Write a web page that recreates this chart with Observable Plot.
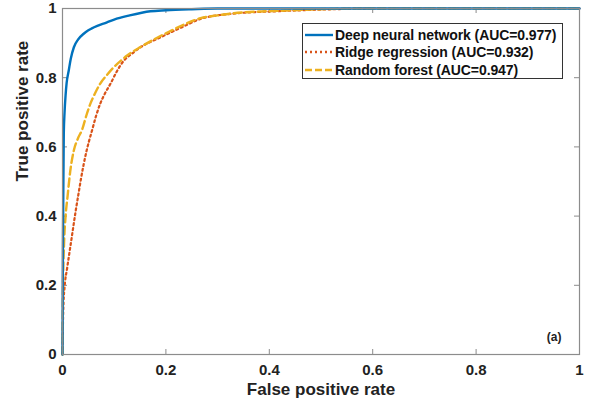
<!DOCTYPE html>
<html>
<head>
<meta charset="utf-8">
<script src="https://cdn.jsdelivr.net/npm/d3@7"></script>
<script src="https://cdn.jsdelivr.net/npm/@observablehq/plot@0.6"></script>
<style>
  html, body { margin: 0; padding: 0; background: #fff; }
  #wrap { position: relative; width: 590px; height: 407px; font-family: "Liberation Sans", Arial, sans-serif; }
  #legend { position: absolute; left: 302px; top: 23px; width: 261px; height: 56px; border: 1px solid #333; background: #fff; box-sizing: border-box; padding-top: 2px; }
  .item { display: flex; align-items: center; height: 17.5px; font-weight: bold; font-size: 14px; color: #111; letter-spacing: -0.1px; }
  .item svg { margin: 0 2px 0 2px; }
</style>
</head>
<body>
<div id="wrap"></div>
<script>
const xTicks = [0, 0.2, 0.4, 0.6, 0.8, 1];
const yTicks = [0, 0.2, 0.4, 0.6, 0.8, 1];
const tickLabels = ["0", "0.2", "0.4", "0.6", "0.8", "1"];

const seriesNames = ["Deep neural network (AUC=0.977)", "Ridge regression (AUC=0.932)", "Random forest (AUC=0.947)"];
const seriesColors = ["#0072BD", "#D95319", "#EDB120"];

const dnnFpr = [0, 0.0005, 0.001, 0.002, 0.0025, 0.004, 0.006, 0.008, 0.012, 0.016, 0.022, 0.03, 0.041, 0.05, 0.06, 0.086, 0.1, 0.13, 0.17, 0.2, 0.25, 0.3, 0.4, 1];
const dnnTpr = [0, 0.2, 0.35, 0.55, 0.64, 0.7, 0.75, 0.785, 0.82, 0.855, 0.888, 0.91, 0.927, 0.937, 0.945, 0.96, 0.968, 0.98, 0.992, 0.995, 0.998, 1, 1, 1];

const ridgeFpr = [0, 0.001, 0.002, 0.004, 0.009, 0.014, 0.019, 0.025, 0.031, 0.036, 0.041, 0.046, 0.051, 0.057, 0.065, 0.073, 0.083, 0.093, 0.105, 0.118, 0.133, 0.151, 0.19, 0.234, 0.267, 0.33, 0.43, 0.525, 0.6, 1];
const ridgeTpr = [0, 0.1, 0.15, 0.195, 0.25, 0.3, 0.35, 0.41, 0.465, 0.51, 0.55, 0.585, 0.615, 0.647, 0.69, 0.725, 0.757, 0.783, 0.818, 0.848, 0.868, 0.888, 0.917, 0.948, 0.97, 0.985, 0.993, 0.998, 1, 1];

const rfFpr = [0, 0.001, 0.003, 0.006, 0.01, 0.015, 0.022, 0.03, 0.038, 0.046, 0.054, 0.063, 0.073, 0.086, 0.099, 0.112, 0.125, 0.15, 0.176, 0.205, 0.234, 0.267, 0.3, 0.33, 0.43, 0.525, 0.6, 1];
const rfTpr = [0, 0.2, 0.32, 0.4, 0.46, 0.53, 0.59, 0.625, 0.65, 0.69, 0.725, 0.755, 0.783, 0.808, 0.83, 0.848, 0.864, 0.888, 0.91, 0.932, 0.953, 0.972, 0.98, 0.986, 0.994, 0.999, 1, 1];

const toPts = (xs, ys) => xs.map((x, i) => ({x, y: ys[i]}));
const dnn = toPts(dnnFpr, dnnTpr);
const ridge = toPts(ridgeFpr, ridgeTpr);
const rf = toPts(rfFpr, rfTpr);

const W = 590, H = 407;
const mL = 62, mR = 11, mT = 8, mB = 53;
const tx = 5 / (W - mL - mR), ty = 5 / (H - mT - mB);
const axisGray = "#8c8c8c";

const chart = Plot.plot({
  width: W, height: H,
  marginLeft: mL, marginRight: mR, marginTop: mT, marginBottom: mB,
  style: {fontFamily: "'Liberation Sans', Arial, sans-serif", background: "#fff", overflow: "visible"},
  x: {domain: [0, 1]},
  y: {domain: [0, 1]},
  marks: [
    Plot.axisX(xTicks, {tickSize: 0, tickPadding: 10, tickFormat: (d, i) => tickLabels[i], fontSize: 15, fontWeight: "bold", fill: "#222", label: null}),
    Plot.axisY(yTicks, {tickSize: 0, tickPadding: 6, tickFormat: (d, i) => tickLabels[i], fontSize: 15, fontWeight: "bold", fill: "#222", label: null}),
    Plot.ruleX(xTicks, {x: d => d, y1: 0, y2: ty, stroke: axisGray}),
    Plot.ruleX(xTicks, {x: d => d, y1: 1, y2: 1 - ty, stroke: axisGray}),
    Plot.ruleY(yTicks, {y: d => d, x1: 0, x2: tx, stroke: axisGray}),
    Plot.ruleY(yTicks, {y: d => d, x1: 1, x2: 1 - tx, stroke: axisGray}),
    Plot.line(ridge, {x: "x", y: "y", stroke: seriesColors[1], strokeWidth: 2.2, strokeDasharray: "2,3", curve: "monotone-x"}),
    Plot.line(rf, {x: "x", y: "y", stroke: seriesColors[2], strokeWidth: 2.4, strokeDasharray: "8,4", curve: "monotone-x"}),
    Plot.line(dnn, {x: "x", y: "y", stroke: seriesColors[0], strokeWidth: 2.4, curve: "monotone-x"}),
    Plot.frame({stroke: axisGray, strokeWidth: 1.2}),
    Plot.text(["(a)"], {frameAnchor: "bottom-right", dx: -18, dy: -14, fontSize: 12, fontWeight: "bold", fill: "#222"}),
    Plot.text(["False positive rate"], {frameAnchor: "bottom", lineAnchor: "middle", dy: 35, fontSize: 17, fontWeight: "bold", fill: "#222"}),
    Plot.text(["True positive rate"], {frameAnchor: "left", dx: -40, rotate: -90, fontSize: 17, fontWeight: "bold", fill: "#222"})
  ]
});

const wrap = document.getElementById("wrap");
wrap.appendChild(chart);

const legend = document.createElement("div");
legend.id = "legend";
const dashes = [null, "2,3", "7,3"];
seriesNames.forEach((name, i) => {
  const item = document.createElement("div");
  item.className = "item";
  const dash = dashes[i] ? ` stroke-dasharray="${dashes[i]}"` : "";
  item.innerHTML = `<svg width="28" height="6"><line x1="0" y1="3" x2="28" y2="3" stroke="${seriesColors[i]}" stroke-width="2.4"${dash}/></svg><span>${name}</span>`;
  legend.appendChild(item);
});
wrap.appendChild(legend);
</script>
</body>
</html>
